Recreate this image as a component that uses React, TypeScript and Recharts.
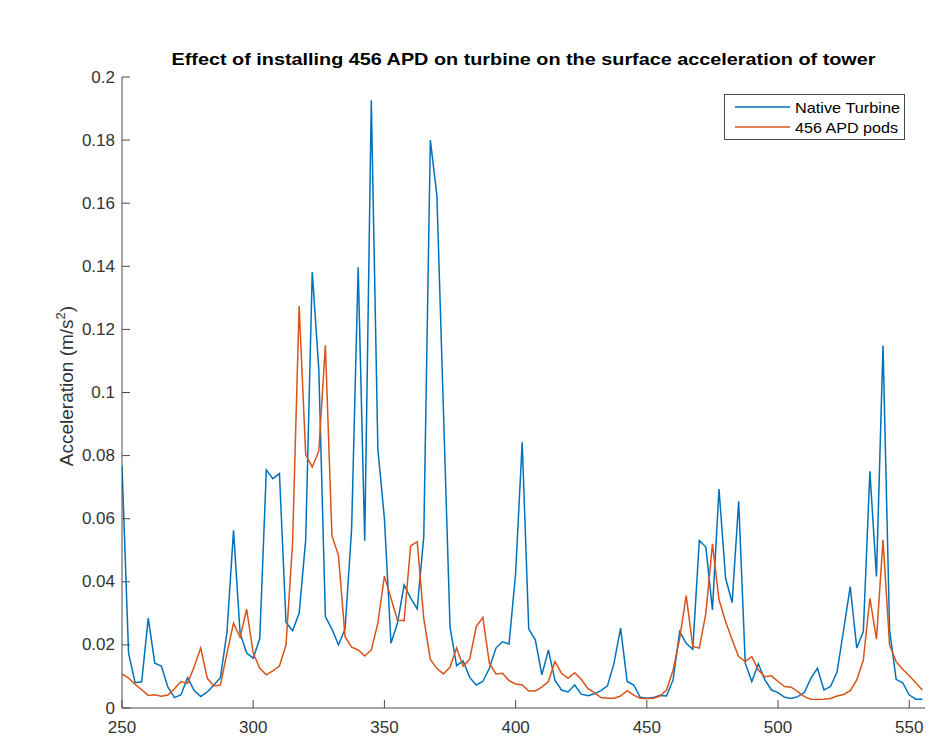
import React from 'react';
import { LineChart, Line, XAxis, YAxis } from 'recharts';

const frequency = [
  250, 252.5, 255, 257.5, 260, 262.5, 265, 267.5, 270, 272.5,
  275, 277.5, 280, 282.5, 285, 287.5, 290, 292.5, 295, 297.5,
  300, 302.5, 305, 307.5, 310, 312.5, 315, 317.5, 320, 322.5,
  325, 327.5, 330, 332.5, 335, 337.5, 340, 342.5, 345, 347.5,
  350, 352.5, 355, 357.5, 360, 362.5, 365, 367.5, 370, 372.5,
  375, 377.5, 380, 382.5, 385, 387.5, 390, 392.5, 395, 397.5,
  400, 402.5, 405, 407.5, 410, 412.5, 415, 417.5, 420, 422.5,
  425, 427.5, 430, 432.5, 435, 437.5, 440, 442.5, 445, 447.5,
  450, 452.5, 455, 457.5, 460, 462.5, 465, 467.5, 470, 472.5,
  475, 477.5, 480, 482.5, 485, 487.5, 490, 492.5, 495, 497.5,
  500, 502.5, 505, 507.5, 510, 512.5, 515, 517.5, 520, 522.5,
  525, 527.5, 530, 532.5, 535, 537.5, 540, 542.5, 545, 547.5,
  550, 552.5, 555,
];

const nativeTurbine = [
  0.0768, 0.0174, 0.008, 0.0083, 0.0285, 0.0142, 0.0133, 0.0066, 0.0033, 0.0042,
  0.0096, 0.0055, 0.0036, 0.0051, 0.0073, 0.0096, 0.024, 0.0563, 0.0237, 0.0174,
  0.0158, 0.022, 0.0755, 0.0727, 0.0743, 0.0271, 0.0245, 0.03, 0.0533, 0.1382,
  0.1073, 0.029, 0.025, 0.02, 0.025, 0.0567, 0.1397, 0.053, 0.1926, 0.0821,
  0.06, 0.0205, 0.027, 0.039, 0.0348, 0.0314, 0.0543, 0.18, 0.1624, 0.094,
  0.0257, 0.0134, 0.0149, 0.0097, 0.0073, 0.0084, 0.0126, 0.019, 0.021, 0.0203,
  0.0428, 0.0842, 0.025, 0.0216, 0.0105, 0.0184, 0.0087, 0.0057, 0.0051, 0.0073,
  0.0044, 0.0039, 0.0045, 0.0055, 0.007, 0.0142, 0.0253, 0.0084, 0.0073, 0.0034,
  0.0031, 0.0033, 0.004, 0.0038, 0.0089, 0.0242, 0.0205, 0.0186, 0.0531, 0.051,
  0.0311, 0.0694, 0.0412, 0.0334, 0.0655, 0.0142, 0.0084, 0.014, 0.0089, 0.0057,
  0.0049, 0.0034, 0.003, 0.0036, 0.0049, 0.0094, 0.0126, 0.0057, 0.0068, 0.0115,
  0.0248, 0.0385, 0.019, 0.0242, 0.075, 0.0417, 0.1149, 0.0248, 0.0091, 0.008,
  0.0041, 0.0028, 0.0028,
];

const apdPods = [
  0.0108, 0.0095, 0.0075, 0.0058, 0.004, 0.0042, 0.0037, 0.0041, 0.0061, 0.0084,
  0.0078, 0.0131, 0.019, 0.0094, 0.007, 0.0073, 0.0174, 0.0269, 0.0224, 0.0313,
  0.0174, 0.0126, 0.0105, 0.0118, 0.0133, 0.02, 0.0523, 0.1274, 0.0803, 0.0764,
  0.0814, 0.115, 0.0546, 0.0483, 0.0226, 0.0193, 0.0184, 0.0165, 0.0184, 0.0269,
  0.0418, 0.0348, 0.0278, 0.0277, 0.0514, 0.0527, 0.0283, 0.0154, 0.0125, 0.0108,
  0.013, 0.019, 0.0132, 0.0155, 0.0258, 0.0287, 0.0142, 0.0108, 0.011, 0.0087,
  0.0076, 0.0073, 0.0054, 0.0054, 0.0066, 0.0084, 0.0147, 0.011, 0.0094, 0.0112,
  0.0091, 0.0062, 0.0049, 0.0033, 0.0031, 0.0031, 0.0038, 0.0055, 0.0041, 0.0031,
  0.003, 0.0031, 0.0038, 0.0057, 0.012, 0.022, 0.0356, 0.0195, 0.019, 0.03,
  0.052, 0.0343, 0.0274, 0.0216, 0.0163, 0.0147, 0.0163, 0.012, 0.0099, 0.0102,
  0.0084, 0.0068, 0.0066, 0.0052, 0.0036, 0.0028, 0.0027, 0.0028, 0.003, 0.0038,
  0.0043, 0.0055, 0.0089, 0.0152, 0.0348, 0.0218, 0.0533, 0.02, 0.0147, 0.0123,
  0.0102, 0.008, 0.0057,
];

const xTicks = [250, 300, 350, 400, 450, 500, 550];
const yTicks = [0, 0.02, 0.04, 0.06, 0.08, 0.1, 0.12, 0.14, 0.16, 0.18, 0.2];
const yTickLabels = ['0', '0.02', '0.04', '0.06', '0.08', '0.1', '0.12', '0.14', '0.16', '0.18', '0.2'];

const seriesNames = ['Native Turbine', '456 APD pods'];
const title = 'Effect of installing 456 APD on turbine on the surface acceleration of tower';

const data = frequency.map((f, i) => ({ f, native: nativeTurbine[i], apd: apdPods[i] }));

const BLUE = '#0072BD';
const ORANGE = '#D95319';
const AXIS = '#4a4a4a';
const TEXT = '#333333';
const FONT = 'Liberation Sans, Arial, Helvetica, sans-serif';

const YTick = (props: any) => {
  const { x, y, payload } = props;
  const idx = yTicks.indexOf(payload.value);
  const label = idx >= 0 ? yTickLabels[idx] : String(payload.value);
  return (
    <g>
      <line x1={x + 7} x2={x + 15} y1={y} y2={y} stroke={AXIS} strokeWidth={1} />
      <text x={x} y={y} textAnchor="end" dominantBaseline="central" fontSize={17} fill={TEXT} fontFamily={FONT}>
        {label}
      </text>
    </g>
  );
};

const XTick = (props: any) => {
  const { x, y, payload } = props;
  return (
    <g>
      <line x1={x} x2={x} y1={y - 8} y2={y - 16} stroke={AXIS} strokeWidth={1} />
      <text x={x} y={y} dy={17} textAnchor="middle" fontSize={17} fill={TEXT} fontFamily={FONT}>
        {payload.value}
      </text>
    </g>
  );
};

export default function App() {
  return (
    <div style={{ position: 'absolute', left: 0, top: 0, width: 934, height: 743, background: '#fff' }}>
      <LineChart width={934} height={743} data={data} margin={{ top: 77, right: 9, bottom: 5, left: 62 }}>
        <XAxis
          dataKey="f"
          type="number"
          domain={[250, 556]}
          ticks={xTicks}
          allowDataOverflow
          height={30}
          tickSize={0}
          tickMargin={8}
          tickLine={false}
          axisLine={{ stroke: AXIS, strokeWidth: 1 }}
          tick={<XTick />}
          interval={0}
        />
        <YAxis
          type="number"
          domain={[0, 0.2]}
          ticks={yTicks}
          allowDataOverflow
          width={60}
          tickSize={0}
          tickMargin={7}
          tickLine={false}
          axisLine={{ stroke: AXIS, strokeWidth: 1 }}
          tick={<YTick />}
          interval={0}
        />
        <Line dataKey="native" type="linear" stroke={BLUE} strokeWidth={1.5} dot={false} isAnimationActive={false} />
        <Line dataKey="apd" type="linear" stroke={ORANGE} strokeWidth={1.5} dot={false} isAnimationActive={false} />
      </LineChart>
      <svg
        width={934}
        height={743}
        style={{ position: 'absolute', left: 0, top: 0, pointerEvents: 'none' }}
      >
        <text
          x={523.5}
          y={65}
          textAnchor="middle"
          fontWeight="bold"
          fontSize={16.5}
          fill="#000"
          fontFamily={FONT}
          textLength={704}
          lengthAdjust="spacingAndGlyphs"
        >
          {title}
        </text>
        <text
          transform="translate(73,386) rotate(-90)"
          textAnchor="middle"
          fontSize={19}
          fill={TEXT}
          fontFamily={FONT}
        >
          Acceleration (m/s
          <tspan fontSize={13} dy={-8}>2</tspan>
          <tspan dy={8}>)</tspan>
        </text>
        <rect x={724.5} y={94.5} width={180} height={45} fill="#fff" stroke={AXIS} strokeWidth={1} />
        <line x1={735} x2={790} y1={107} y2={107} stroke={BLUE} strokeWidth={1.5} />
        <line x1={735} x2={790} y1={127} y2={127} stroke={ORANGE} strokeWidth={1.5} />
        <text x={795} y={107} dominantBaseline="central" fontSize={15} fill="#000" fontFamily={FONT} textLength={105} lengthAdjust="spacingAndGlyphs">
          {seriesNames[0]}
        </text>
        <text x={795} y={127} dominantBaseline="central" fontSize={15} fill="#000" fontFamily={FONT} textLength={103} lengthAdjust="spacingAndGlyphs">
          {seriesNames[1]}
        </text>
      </svg>
    </div>
  );
}
